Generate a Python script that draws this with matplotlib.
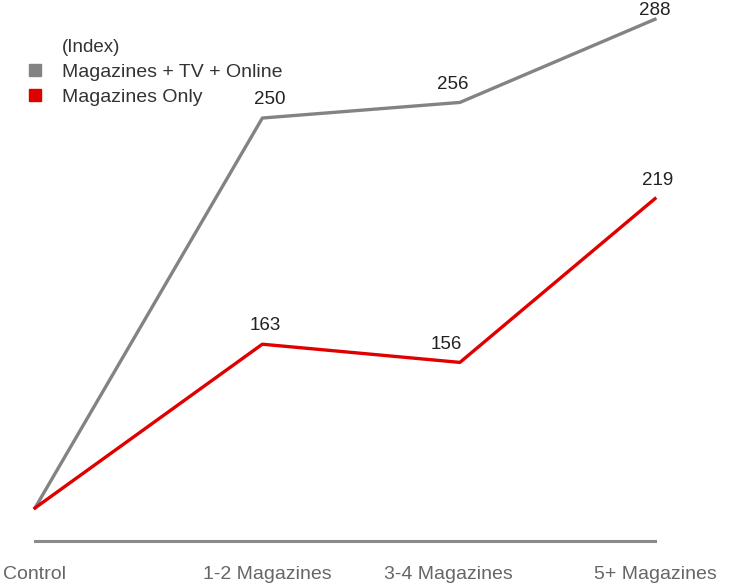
import matplotlib.pyplot as plt
from matplotlib.lines import Line2D
from matplotlib.transforms import ScaledTranslation

categories = ["Control", "1-2 Magazines", "3-4 Magazines", "5+ Magazines"]
cat_pos = [0, 1.1, 2.056, 3]  # categories are not evenly spaced in the original
mag_tv_online = [100, 250, 256, 288]
mag_only = [100, 163, 156, 219]
series_names = ["Magazines + TV + Online", "Magazines Only"]

gray = "#838383"
red = "#e00000"

plt.rcParams["font.family"] = ["Liberation Sans", "DejaVu Sans"]

fig = plt.figure(figsize=(7.3, 5.87), dpi=100)
ax = fig.add_axes([35 / 730, 1 - 541 / 587, 620 / 730, 541 / 587])

ax.plot(cat_pos, mag_tv_online, color=gray, lw=2.4, clip_on=False)
ax.plot(cat_pos, mag_only, color=red, lw=2.4, clip_on=False)

ax.set_xlim(0, 3)
ax.set_ylim(87.3, 295.4)

# value labels, control point has none
dx_gray = [0, 5, -5, 0]
dy_gray = [0, 7, 7, 0]
dx_red = [0, 2, -10, 2]
dy_red = [0, 7, 7, 7]
for i in range(1, 4):
    ax.annotate(str(mag_tv_online[i]), (cat_pos[i], mag_tv_online[i]),
                xytext=(dx_gray[i], dy_gray[i]), textcoords="offset points",
                ha="center", va="bottom", fontsize=13.5, color="#222222",
                annotation_clip=False)
    ax.annotate(str(mag_only[i]), (cat_pos[i], mag_only[i]),
                xytext=(dx_red[i], dy_red[i]), textcoords="offset points",
                ha="center", va="bottom", fontsize=13.5, color="#222222",
                annotation_clip=False)

for s in ["top", "right", "left"]:
    ax.spines[s].set_visible(False)
ax.spines["bottom"].set_color("#8a8a8a")
ax.spines["bottom"].set_linewidth(2.2)
ax.set_yticks([])
ax.set_xticks(cat_pos)
ax.set_xticklabels(categories, fontsize=14, color="#666666")
ax.tick_params(axis="x", length=0, pad=18)
# nudge a couple of tick labels like the original
nudge = [0, 5, -12, 0]
for lbl, dx in zip(ax.get_xticklabels(), nudge):
    lbl.set_transform(lbl.get_transform() + ScaledTranslation(dx / 100, 0, fig.dpi_scale_trans))

# legend
fig.text(62 / 730, 1 - 47 / 587, "(Index)", fontsize=13.5, color="#333333", va="center")
handles = [Line2D([], [], marker="s", ls="", color=gray, markersize=8),
           Line2D([], [], marker="s", ls="", color=red, markersize=8)]
leg = fig.legend(handles, series_names, loc="upper left",
                 bbox_to_anchor=(25 / 730, 1 - 63 / 587),
                 frameon=False, fontsize=14, handlelength=1.0, handletextpad=0.9,
                 labelspacing=0.4, borderaxespad=0, borderpad=0)
for t in leg.get_texts():
    t.set_color("#333333")

fig.savefig("out.png", dpi=100)
